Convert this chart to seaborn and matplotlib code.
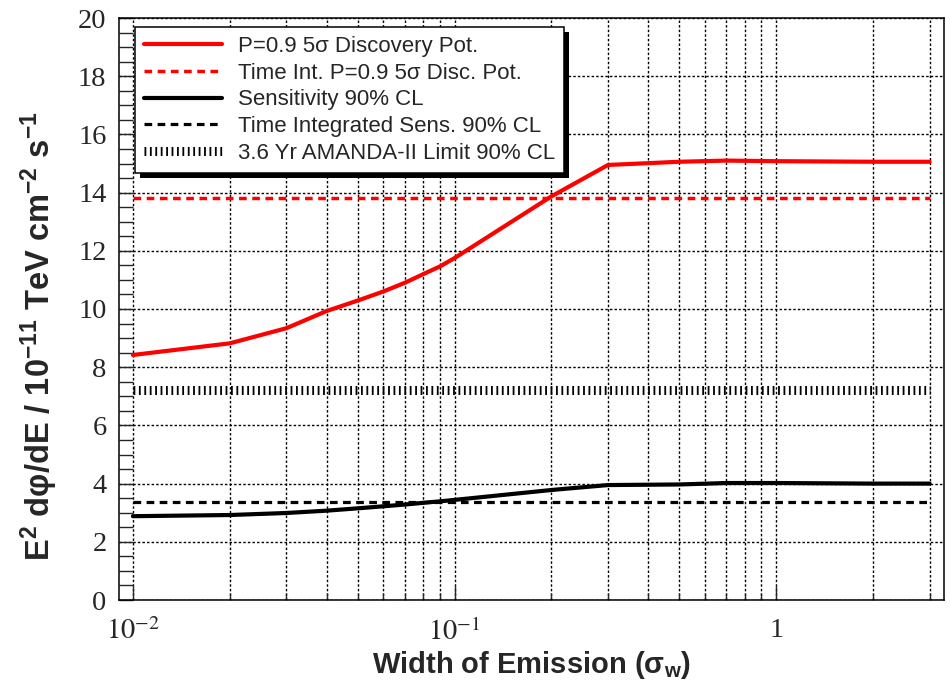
import numpy as np
import pandas as pd
import matplotlib
matplotlib.use("Agg")
import matplotlib.pyplot as plt
import seaborn as sns
from matplotlib.ticker import FixedLocator, FixedFormatter, LogLocator, MultipleLocator, NullFormatter
from matplotlib.patches import Rectangle
from matplotlib.transforms import IdentityTransform

# ---- data ----
width = [0.01, 0.02, 0.03, 0.04, 0.05, 0.06, 0.07, 0.08, 0.09, 0.1, 0.2, 0.3, 0.5, 0.7, 1.0, 2.0, 3.0]
disc_pot = [8.42, 8.82, 9.34, 9.93, 10.29, 10.6, 10.9, 11.2, 11.46, 11.75, 13.87, 14.95, 15.06, 15.1, 15.08, 15.06, 15.06]
sensitivity = [2.88, 2.92, 2.99, 3.07, 3.15, 3.22, 3.28, 3.34, 3.39, 3.44, 3.78, 3.95, 3.97, 4.02, 4.02, 4.0, 4.0]
ti_range = [0.01, 3.0]
ti_disc_pot = [13.82, 13.82]
ti_sens = [3.36, 3.36]
amanda_limit = [7.23, 7.23]

labels = [
    "P=0.9 5σ Discovery Pot.",
    "Time Int. P=0.9 5σ Disc. Pot.",
    "Sensitivity 90% CL",
    "Time Integrated Sens. 90% CL",
    "3.6 Yr AMANDA-II Limit 90% CL",
]
xtick_vals = [0.01, 0.1, 1]
xtick_text = [r"$10^{-2}$", r"$10^{-1}$", "1"]

# ---- style ----
sns.set_style("white")
plt.rcParams.update({
    "font.family": ["Liberation Sans", "DejaVu Sans"],
    "mathtext.fontset": "stix",
    "mathtext.rm": "Liberation Sans:bold",
    "mathtext.it": "Liberation Sans:bold:italic",
    "mathtext.bf": "Liberation Sans:bold",
    "mathtext.sf": "Liberation Sans:bold",
})

fig = plt.figure(figsize=(9.5, 6.83), dpi=100)
ax = fig.add_axes([119 / 950, 1 - 600 / 683, 825 / 950, 582 / 683])

red = "#ff0000"
sns.lineplot(x=width, y=disc_pot, ax=ax, color=red, linewidth=3.0, label=labels[0], zorder=4)
sns.lineplot(x=ti_range, y=ti_disc_pot, ax=ax, color=red, linewidth=2.5,
             linestyle=(0, (2.2, 1.6)), dash_capstyle="butt", label=labels[1], zorder=4)
sns.lineplot(x=width, y=sensitivity, ax=ax, color="black", linewidth=3.0, label=labels[2], zorder=4)
sns.lineplot(x=ti_range, y=ti_sens, ax=ax, color="black", linewidth=2.3,
             linestyle=(0, (2.4, 1.7)), dash_capstyle="butt", label=labels[3], zorder=4)
sns.lineplot(x=ti_range, y=amanda_limit, ax=ax, color="black", linewidth=6.5,
             linestyle=(0, (0.2, 0.4)), dash_capstyle="butt", label=labels[4], zorder=4)

ax.set_xscale("log")
ax.set_xlim(0.00905, 3.325)
ax.set_ylim(0, 20)

ax.xaxis.set_major_locator(FixedLocator(xtick_vals))
ax.xaxis.set_major_formatter(FixedFormatter(xtick_text))
ax.xaxis.set_minor_locator(LogLocator(base=10, subs=np.arange(2, 10)))
ax.xaxis.set_minor_formatter(NullFormatter())
ax.yaxis.set_major_locator(MultipleLocator(2))
ax.yaxis.set_minor_locator(MultipleLocator(0.5))

ax.set_axisbelow(True)
grid_kw = dict(color="black", linestyle=(0, (1.8, 1.5)), linewidth=1.0)
ax.grid(True, axis="x", which="both", **grid_kw)
ax.grid(True, axis="y", which="major", **grid_kw)

ax.tick_params(axis="y", which="both", direction="in", length=10, width=1.0,
               left=True, right=False, labelsize=20.5, pad=9, labelfontfamily="Liberation Serif")
ax.tick_params(axis="x", which="major", direction="in", length=10, width=1.0,
               bottom=True, top=False, labelsize=20.5, pad=13)
ax.tick_params(axis="x", which="minor", direction="in", length=5, width=1.0,
               bottom=True, top=False)
for t in ax.get_xticklabels():
    t.set_fontfamily("Liberation Serif")

for s in ax.spines.values():
    s.set_color("black")
    s.set_linewidth(1.1)

xl = ax.set_xlabel("Width of Emission (σ$_\\mathrm{w}$)", fontsize=21, fontweight="bold")
xl.set_math_fontfamily("custom")
ax.xaxis.set_label_coords(0.5, -0.085)
xl.set_va("top")
yl = ax.set_ylabel("E$^{2}$ dφ/dE / 10$^{-11}$ TeV cm$^{-2}$ s$^{-1}$", fontsize=23.5, fontweight="bold")
yl.set_math_fontfamily("custom")
ax.yaxis.set_label_coords(-0.072, 0.4536)

leg = ax.legend(loc="upper left", bbox_to_anchor=(135 / 950, 1 - 27 / 683),
                bbox_transform=fig.transFigure, borderaxespad=0, frameon=True,
                fancybox=False, framealpha=1, edgecolor="black",
                prop={"family": "Liberation Sans", "size": 16},
                handlelength=3.5, handletextpad=0.75, labelspacing=0.26, borderpad=0.4)
leg.get_frame().set_linewidth(1.1)
leg.set_zorder(6)

fig.canvas.draw()
bb = leg.get_window_extent()
shadow = Rectangle((bb.x0 + 5, bb.y0 - 5), bb.width, bb.height, transform=IdentityTransform(),
                   facecolor="black", edgecolor="none", zorder=5.5, clip_on=False)
ax.add_patch(shadow)

fig.savefig("out.png", dpi=100)
